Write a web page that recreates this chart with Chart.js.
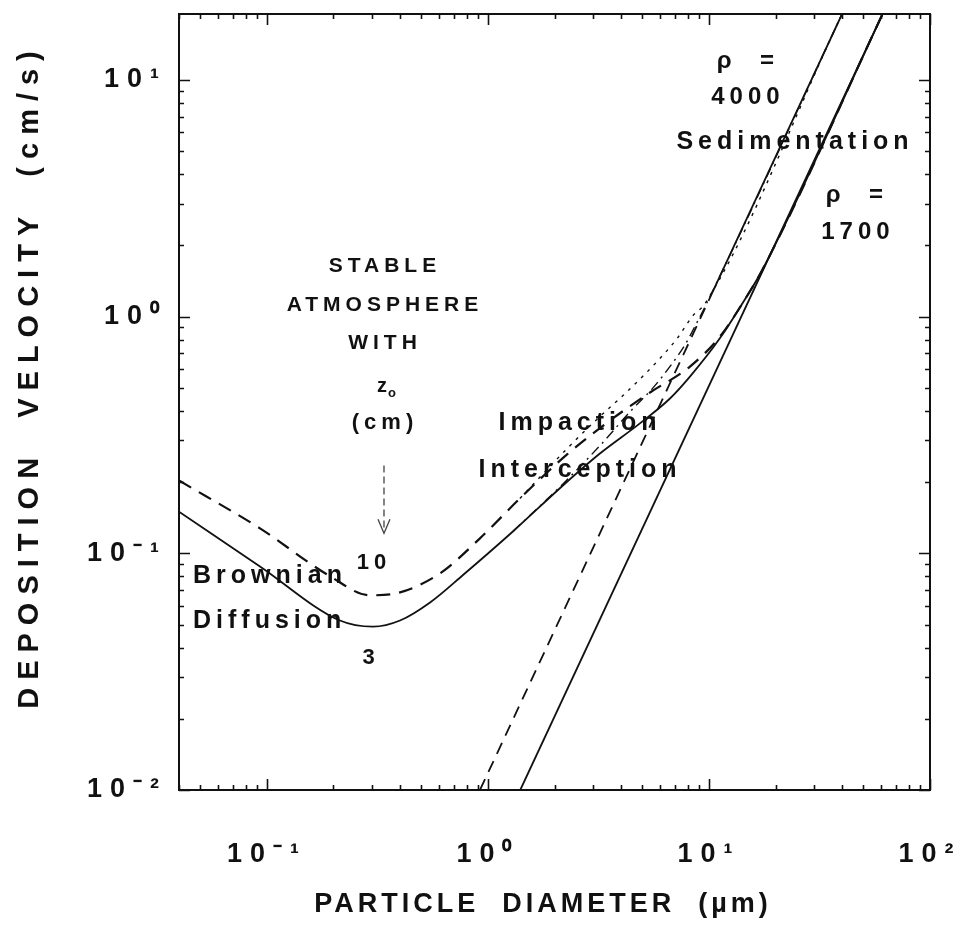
<!DOCTYPE html>
<html>
<head>
<meta charset="utf-8">
<title>Deposition velocity vs particle diameter</title>
<script src="https://cdn.jsdelivr.net/npm/chart.js@4.4.1/dist/chart.umd.min.js"></script>
<style>
  html, body { margin: 0; padding: 0; background: #ffffff; }
  #plot { display: block; }
</style>
</head>
<body>
<canvas id="plot" width="966" height="950" style="width:966px;height:950px"></canvas>
<script>
// Axis ranges: particle diameter (µm) and deposition velocity (cm/s)
const X_MIN = 0.04, X_MAX = 100;
const Y_MIN = 0.01, Y_MAX = 19;

// Total deposition velocity, stable atmosphere, z0 = 3 cm, rho = 1700
const diamZ3Rho1700 = [0.04, 0.093, 0.214, 0.302, 0.40, 0.547, 0.771, 1.30, 2.19, 3.21, 4.87, 6.66, 8.20, 11.2, 14.6, 17.4, 61];
const velZ3Rho1700  = [0.150, 0.088, 0.052, 0.049, 0.052, 0.062, 0.081, 0.124, 0.194, 0.264, 0.354, 0.451, 0.558, 0.81, 1.19, 1.57, 19];

// z0 = 10 cm, rho = 1700
const diamZ10Rho1700 = [0.04, 0.093, 0.193, 0.292, 0.40, 0.607, 0.92, 1.395, 2.28, 3.565, 5.41, 8.20, 11.2, 14.6, 17.4, 61];
const velZ10Rho1700  = [0.203, 0.1275, 0.080, 0.0665, 0.0684, 0.0823, 0.1157, 0.1706, 0.2617, 0.364, 0.478, 0.615, 0.823, 1.19, 1.57, 19];

// z0 = 3 cm, rho = 4000 (identical to rho = 1700 below about 1 µm)
const diamZ3Rho4000 = [1.30, 2.19, 3.21, 4.53, 5.58, 6.87, 7.79, 8.64, 9.59, 40];
const velZ3Rho4000  = [0.124, 0.197, 0.285, 0.409, 0.50, 0.64, 0.76, 0.91, 1.10, 19];

// z0 = 10 cm, rho = 4000 (identical to rho = 1700 below about 1 µm)
const diamZ10Rho4000 = [1.395, 2.35, 3.21, 4.08, 5.82, 7.17, 8.46, 9.59, 40];
const velZ10Rho4000  = [0.1706, 0.285, 0.3785, 0.464, 0.646, 0.808, 1.01, 1.135, 19];

// Sedimentation (gravitational settling) alone
const diamSed4000 = [0.92, 10.3, 40];
const velSed4000  = [0.01, 1.25, 19];
const diamSed1700 = [1.4, 61];
const velSed1700  = [0.01, 19];
const SED4000_SOLID_FROM = 10.3; // above this diameter the settling line merges with the totals

// Decade tick labels
const xDecades = [0.1, 1, 10, 100];
const xDecadeLabels = ['10\u207B\u00B9', '10\u2070', '10\u00B9', '10\u00B2'];
const yDecades = [0.01, 0.1, 1, 10];
const yDecadeLabels = ['10\u207B\u00B2', '10\u207B\u00B9', '10\u2070', '10\u00B9'];

const INK = '#111111';
const FONT = '"Liberation Sans", Arial, Helvetica, sans-serif';

function pairs(xs, ys) { return xs.map((v, i) => ({ x: v, y: ys[i] })); }

// 1..9 x 10^n positions for the log tick marks
function logTickValues(lo, hi) {
  const out = [];
  for (let e = Math.floor(Math.log10(lo)); e <= Math.ceil(Math.log10(hi)); e++) {
    for (let m = 1; m <= 9; m++) {
      const v = parseFloat((m * Math.pow(10, e)).toPrecision(6));
      if (v >= lo * 0.9999 && v <= hi * 1.0001) out.push(v);
    }
  }
  return out;
}
function decadeLabel(value, decades, labels) {
  const i = decades.findIndex(d => Math.abs(Math.log10(d) - Math.log10(value)) < 1e-6);
  return i >= 0 ? labels[i] : '';
}
function isDecade(v) { const l = Math.log10(v); return Math.abs(l - Math.round(l)) < 1e-6; }

// Free text placed at data coordinates
const notes = [
  { text: 'STABLE',       x: 0.342, y: 1.626, size: 21, align: 'center' },
  { text: 'ATMOSPHERE',   x: 0.342, y: 1.113, size: 21, align: 'center' },
  { text: 'WITH',         x: 0.342, y: 0.769, size: 21, align: 'center' },
  { text: '(cm)',         x: 0.342, y: 0.354, size: 22, align: 'center' },
  { text: '10',           x: 0.305, y: 0.0907, size: 22, align: 'center' },
  { text: '3',            x: 0.296, y: 0.036, size: 22, align: 'center' },
  { text: 'Brownian',     x: 0.0463, y: 0.080, size: 25, align: 'left' },
  { text: 'Diffusion',    x: 0.0463, y: 0.0516, size: 25, align: 'left' },
  { text: 'Impaction',    x: 2.61, y: 0.354, size: 25, align: 'center' },
  { text: 'Interception', x: 2.61, y: 0.224, size: 25, align: 'center' },
  { text: '\u03C1  =',    x: 15.0, y: 12.0, size: 24, align: 'center' },
  { text: '4000',         x: 15.0, y: 8.48, size: 24, align: 'center' },
  { text: 'Sedimentation', x: 24.5, y: 5.48, size: 25, align: 'center' },
  { text: '\u03C1  =',    x: 46.7, y: 3.24, size: 24, align: 'center' },
  { text: '1700',         x: 47.2, y: 2.28, size: 24, align: 'center' }
];
const roughnessLabel = { x: 0.342, y: 0.507 };        // "z0" heading
const arrowFrom = { x: 0.3385, y: 0.235 }, arrowTo = { x: 0.3385, y: 0.1215 };

const frameAndTicks = {
  id: 'frameAndTicks',
  beforeDraw(chart) { chart.ctx.letterSpacing = '8px'; },
  afterDatasetsDraw(chart) {
    const { ctx, chartArea: a, scales: { x, y } } = chart;
    ctx.save();
    ctx.strokeStyle = INK;
    ctx.lineWidth = 2;
    ctx.strokeRect(a.left, a.top, a.right - a.left, a.bottom - a.top);
    ctx.lineWidth = 1.6;
    ctx.beginPath();
    x.ticks.forEach(t => {
      const px = Math.round(x.getPixelForValue(t.value)) + 0.5;
      const len = isDecade(t.value) ? 11 : 5;
      ctx.moveTo(px, a.bottom); ctx.lineTo(px, a.bottom - len);
      ctx.moveTo(px, a.top); ctx.lineTo(px, a.top + len);
    });
    y.ticks.forEach(t => {
      const py = Math.round(y.getPixelForValue(t.value)) + 0.5;
      const len = isDecade(t.value) ? 11 : 5;
      ctx.moveTo(a.left, py); ctx.lineTo(a.left + len, py);
      ctx.moveTo(a.right, py); ctx.lineTo(a.right - len, py);
    });
    ctx.stroke();
    ctx.restore();
  }
};

const annotations = {
  id: 'annotations',
  afterDraw(chart) {
    const { ctx, scales: { x, y } } = chart;
    ctx.save();
    ctx.fillStyle = INK;
    ctx.textBaseline = 'middle';
    ctx.letterSpacing = '5px';
    notes.forEach(n => {
      ctx.font = 'bold ' + n.size + 'px ' + FONT;
      ctx.textAlign = n.align;
      ctx.fillText(n.text, x.getPixelForValue(n.x), y.getPixelForValue(n.y));
    });
    // z with subscript o
    const zx = x.getPixelForValue(roughnessLabel.x), zy = y.getPixelForValue(roughnessLabel.y);
    ctx.letterSpacing = '0px';
    ctx.textAlign = 'right';
    ctx.font = 'bold 20px ' + FONT;
    ctx.fillText('z', zx + 2, zy);
    ctx.textAlign = 'left';
    ctx.font = 'bold 13px ' + FONT;
    ctx.fillText('o', zx + 3, zy + 7);

    // dashed pointer arrow
    const ax = x.getPixelForValue(arrowFrom.x);
    const ay1 = y.getPixelForValue(arrowFrom.y), ay2 = y.getPixelForValue(arrowTo.y);
    ctx.strokeStyle = '#444';
    ctx.lineWidth = 1.3;
    ctx.setLineDash([7, 4]);
    ctx.beginPath(); ctx.moveTo(ax, ay1); ctx.lineTo(ax, ay2 - 2); ctx.stroke();
    ctx.setLineDash([]);
    ctx.beginPath();
    ctx.moveTo(ax - 6, ay2 - 14); ctx.lineTo(ax, ay2); ctx.lineTo(ax + 6, ay2 - 14);
    ctx.stroke();

    // axis titles
    ctx.fillStyle = INK;
    ctx.letterSpacing = '4px';
    ctx.font = 'bold 27px ' + FONT;
    ctx.textAlign = 'center';
    ctx.fillText('PARTICLE  DIAMETER  (\u00B5m)', 543, 905);
    ctx.letterSpacing = '8px';
    ctx.font = 'bold 29px ' + FONT;
    ctx.translate(30, 376);
    ctx.rotate(-Math.PI / 2);
    ctx.fillText('DEPOSITION  VELOCITY  (cm/s)', 0, 0);
    ctx.restore();
  }
};

const lineBase = { borderColor: INK, pointRadius: 0, fill: false, cubicInterpolationMode: 'monotone' };

new Chart(document.getElementById('plot'), {
  type: 'line',
  data: {
    datasets: [
      Object.assign({}, lineBase, { label: 'z0 = 3, rho = 1700', data: pairs(diamZ3Rho1700, velZ3Rho1700), borderWidth: 1.8 }),
      Object.assign({}, lineBase, { label: 'z0 = 10, rho = 1700', data: pairs(diamZ10Rho1700, velZ10Rho1700), borderWidth: 2.2, borderDash: [14, 9] }),
      Object.assign({}, lineBase, { label: 'z0 = 3, rho = 4000', data: pairs(diamZ3Rho4000, velZ3Rho4000), borderWidth: 1.4, borderDash: [10, 5, 2, 5] }),
      Object.assign({}, lineBase, { label: 'z0 = 10, rho = 4000', data: pairs(diamZ10Rho4000, velZ10Rho4000), borderWidth: 1.4, borderDash: [3, 6] }),
      Object.assign({}, lineBase, {
        label: 'Sedimentation rho = 4000', data: pairs(diamSed4000, velSed4000), borderWidth: 1.8,
        cubicInterpolationMode: 'default', tension: 0,
        segment: { borderDash: c => c.p0.parsed.x < SED4000_SOLID_FROM ? [12, 8] : [] }
      }),
      Object.assign({}, lineBase, { label: 'Sedimentation rho = 1700', data: pairs(diamSed1700, velSed1700), borderWidth: 1.8, cubicInterpolationMode: 'default', tension: 0 })
    ]
  },
  options: {
    responsive: false,
    animation: false,
    devicePixelRatio: 1,
    layout: { padding: { top: 14, right: 36, bottom: 0, left: 0 } },
    plugins: { legend: { display: false }, tooltip: { enabled: false } },
    scales: {
      x: {
        type: 'logarithmic', position: 'bottom', min: X_MIN, max: X_MAX,
        grid: { display: false, drawTicks: false },
        border: { display: false },
        afterBuildTicks: s => { s.ticks = logTickValues(X_MIN, X_MAX).map(v => ({ value: v })); },
        afterFit: s => { s.height = 160; s.paddingLeft = 0; s.paddingRight = 0; },
        ticks: {
          autoSkip: false, maxRotation: 0, minRotation: 0, padding: 48, color: INK,
          font: { family: FONT, size: 27, weight: 'bold' },
          callback: v => decadeLabel(v, xDecades, xDecadeLabels)
        }
      },
      y: {
        type: 'logarithmic', position: 'left', min: Y_MIN, max: Y_MAX,
        grid: { display: false, drawTicks: false },
        border: { display: false },
        afterBuildTicks: s => { s.ticks = logTickValues(Y_MIN, Y_MAX).map(v => ({ value: v })); },
        afterFit: s => { s.width = 179; s.paddingTop = 0; s.paddingBottom = 0; },
        ticks: {
          autoSkip: false, padding: 12, color: INK,
          font: { family: FONT, size: 27, weight: 'bold' },
          callback: v => decadeLabel(v, yDecades, yDecadeLabels)
        }
      }
    }
  },
  plugins: [frameAndTicks, annotations]
});
</script>
</body>
</html>
